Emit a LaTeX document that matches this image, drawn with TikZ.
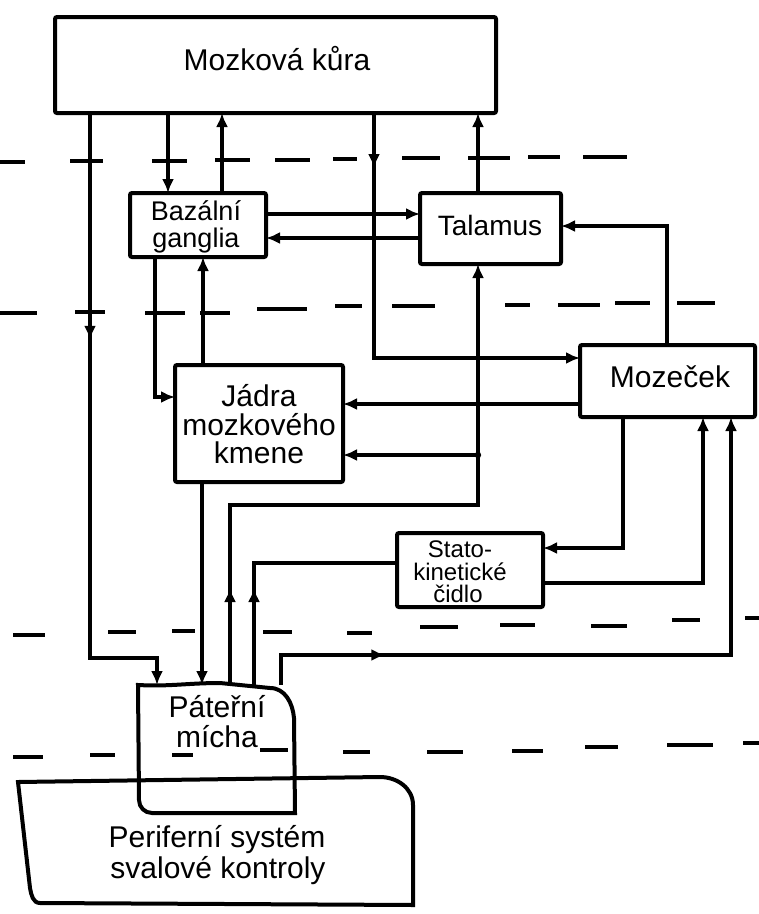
\documentclass[tikz,border=0pt]{standalone}
\usepackage{fontspec}
\setmainfont{Liberation Sans}
\usetikzlibrary{arrows.meta,decorations.markings}
\begin{document}
\begin{tikzpicture}[x=1pt,y=-1pt,
  box/.style={draw, line width=4pt, rounded corners=2pt, inner sep=0pt, outer sep=0pt},
  area/.style={inner sep=0pt, outer sep=0pt},
  lbl/.style={font=\fontsize{30}{30}\selectfont, anchor=base, inner sep=0pt},
  slbl/.style={font=\fontsize{24}{24}\selectfont, anchor=base, inner sep=0pt},
  wire/.style={line width=4pt},
  arr/.style={wire, -{Latex[length=14pt,width=12pt]}},
  midarr/.style={wire, postaction={decorate}, decoration={markings, mark=at position #1 with {\arrow{Latex[length=14pt,width=12pt]}}}},
  dsh/.style={line width=3.4pt}]
\useasboundingbox (0,0) rectangle (759,914);
\fill[white] (0,0) rectangle (759,914);

% dashed level lines
\foreach \a/\b/\y in {0/25/162,70/103/161,152/187/161,215/250/160,275/310/160,333/357/159,402/440/158,468/510/158,528/560/157,583/627/157}
  \draw[dsh] (\a,\y) -- (\b,\y);
\foreach \a/\b/\y in {0/37/313,75/105/312,145/185/313,200/230/313,257/307/309,335/362/306,392/435/306,505/530/305,558/600/305,615/650/303,677/715/303}
  \draw[dsh] (\a,\y) -- (\b,\y);
\foreach \a/\b/\y in {13/45/635,108/136/632,172/195/631,263/292/632,347/372/633,420/458/627,500/535/625,591/627/626,672/700/620,745/759/618}
  \draw[dsh] (\a,\y) -- (\b,\y);
\foreach \a/\b/\y in {13/43/757,90/115/755,172/193/755,260/288/750,343/370/752,427/463/752,512/543/751,585/618/747,667/713/745,743/759/743}
  \draw[dsh] (\a,\y) -- (\b,\y);

% boxes
\node[box, minimum width=441pt, minimum height=96pt] (kura) at (275.5,65) {};
\node[box, minimum width=136pt, minimum height=64pt] (gang) at (198,225) {};
\node[box, minimum width=141pt, minimum height=71pt] (tal) at (490.5,228.5) {};
\node[box, minimum width=175pt, minimum height=72pt] (moz) at (667.5,381) {};
\node[box, minimum width=168pt, minimum height=117pt] (jadra) at (259,423.5) {};
\node[box, minimum width=146pt, minimum height=74pt] (stato) at (470,570) {};
\node[area, minimum width=157pt, minimum height=128pt] (mich) at (216.5,749) {};
\node[area, minimum width=397pt, minimum height=125pt] (peri) at (215.5,841.5) {};

% Periferni system outline
\draw[line width=4pt] (18,782) -- (380,777) to[out=0,in=90] (413,805) -- (413,905)
  -- (40,903) to[out=180,in=-80] (30,888) -- cycle;
% Paterni micha outline
\draw[line width=4pt] (138,685) to[out=-3,in=180] (220,683) -- (270,688) to[out=0,in=95] (294,718)
  -- (295,813) -- (152,813) to[out=180,in=-90] (139,800) -- cycle;

% texts
\node[lbl] (tkura) at (277,70) {Mozková kůra};
\node[font=\fontsize{27}{26.5}\selectfont, align=center, inner sep=0pt] (tgang) at (196,227) {Bazální\\ganglia};
\node[lbl, font=\fontsize{28}{28}\selectfont] (ttal) at (490,235) {Talamus};
\node[lbl] (tmoz) at (670,387) {Mozeček};
\node[lbl] (tj1) at (259,406) {Jádra};
\node[lbl] (tj2) at (259,435) {mozkového};
\node[lbl] (tj3) at (259,463) {kmene};
\node[slbl] (ts1) at (460,557) {Stato-};
\node[slbl] (ts2) at (460,580) {kinetické};
\node[slbl] (ts3) at (458,602) {čidlo};
\node[lbl] (tm1) at (217,717) {Páteřní};
\node[lbl] (tm2) at (217,747) {mícha};
\node[lbl] (tp1) at (217,847) {Periferní systém};
\node[lbl] (tp2) at (218,878) {svalové kontroly};

% connectors
\draw[arr, midarr=0.355] (kura.south -| 90,0) -- (90,658) -- (157,658) -- (mich.north -| 157,0);
\draw[arr] (kura.south -| 168,0) -- (gang.north -| 168,0);
\draw[arr] (gang.north -| 222,0) -- (kura.south -| 222,0);
\draw[arr, midarr=0.122] (kura.south -| 374,0) -- (374,358) -- (moz.west |- 0,358);
\draw[arr] (tal.north -| 478,0) -- (kura.south -| 478,0);
\draw[arr] (gang.east |- 0,214) -- (tal.west |- 0,214);
\draw[arr] (tal.west |- 0,238) -- (gang.east |- 0,238);
\draw[arr] (moz.north -| 667,0) -- (667,226) -- (tal.east |- 0,226);
\draw[arr] (gang.south -| 155,0) -- (155,397) -- (jadra.west |- 0,397);
\draw[arr] (jadra.north -| 203,0) -- (gang.south -| 203,0);
\draw[arr] (moz.west |- 0,404) -- (jadra.east |- 0,404);
\coordinate (jn) at (478,455);
\draw[arr, midarr=0.145] (mich.north -| 230,0) -- (230,505) -- (478,505) -- (tal.south -| 478,0);
\draw[arr] (jn) -- (jadra.east |- jn);
\fill (jn) circle (3.2pt);
\draw[arr] (jadra.south -| 202,0) -- (mich.north -| 202,0);
\draw[midarr=0.366] (mich.north -| 254,0) -- (254,563) -- (stato.west |- 0,563);
\draw[arr] (moz.south -| 623,0) -- (623,548) -- (stato.east |- 0,548);
\draw[arr] (stato.east |- 0,583) -- (703,583) -- (moz.south -| 703,0);
\draw[arr, midarr=0.187] (mich.north -| 281,0) -- (281,655) -- (731,655) -- (moz.south -| 731,0);
\end{tikzpicture}
\end{document}
